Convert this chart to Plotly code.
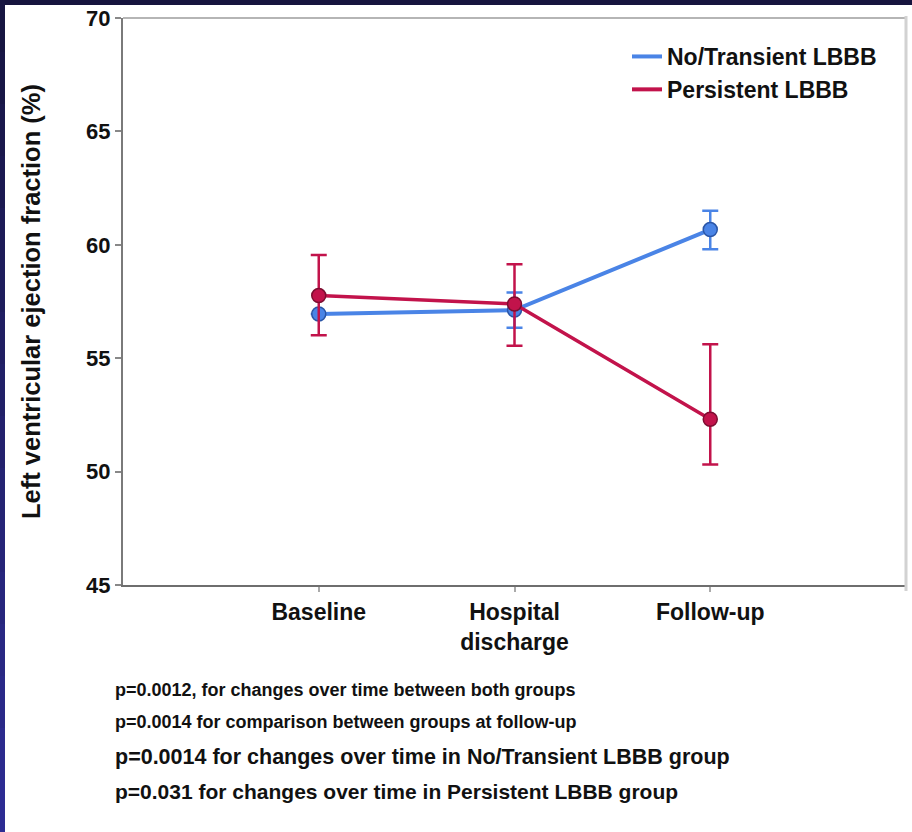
import plotly.graph_objects as go

# ---- data ----
timepoints = ["Baseline", "Hospital<br>discharge", "Follow-up"]
no_transient_mean = [56.95, 57.12, 60.67]
no_transient_err_plus = [None, 0.78, 0.83]
no_transient_err_minus = [None, 0.78, 0.87]
persistent_mean = [57.76, 57.39, 52.31]
persistent_err_plus = [1.79, 1.75, 3.30]
persistent_err_minus = [1.75, 1.84, 2.00]
y_ticks = [45, 50, 55, 60, 65, 70]
series_names = ["No/Transient LBBB", "Persistent LBBB"]
p_notes = [
    "p=0.0012, for changes over time between both groups",
    "p=0.0014 for comparison between groups at follow-up",
    "p=0.0014 for changes over time in No/Transient LBBB group",
    "p=0.031 for changes over time in Persistent LBBB group",
]

# ---- layout geometry (pixels) ----
W, H = 912, 832
L, R, T, B = 123, 906, 18, 585
pw, ph = R - L, B - T


def fx(px):
    return (px - L) / pw


def fy(py):
    return (B - py) / ph


BLUE = "#4a84e6"
BLUE_DK = "#2a55a6"
RED = "#c2134b"
RED_DK = "#7c0d30"
FONT = "Liberation Sans"

fig = go.Figure()

fig.add_trace(go.Scatter(
    x=timepoints, y=no_transient_mean, mode="lines+markers",
    line=dict(color=BLUE, width=4),
    marker=dict(size=14, color=BLUE, line=dict(color=BLUE_DK, width=1.5)),
    error_y=dict(type="data", symmetric=False, array=no_transient_err_plus,
                 arrayminus=no_transient_err_minus, color=BLUE, thickness=2.5, width=8),
    showlegend=False, name=series_names[0]))

fig.add_trace(go.Scatter(
    x=timepoints, y=persistent_mean, mode="lines+markers",
    line=dict(color=RED, width=3.5),
    marker=dict(size=14, color=RED, line=dict(color=RED_DK, width=1.5)),
    error_y=dict(type="data", symmetric=False, array=persistent_err_plus,
                 arrayminus=persistent_err_minus, color=RED, thickness=2.5, width=8),
    showlegend=False, name=series_names[1]))

# legend entries (lines only)
for nm, col in zip(series_names, [BLUE, RED]):
    fig.add_trace(go.Scatter(x=[None], y=[None], mode="lines", name=nm,
                             line=dict(color=col, width=4), showlegend=True))

shapes = []
# dark slide frame: top strip
shapes.append(dict(type="rect", xref="paper", yref="paper",
                   x0=fx(0), x1=fx(W), y0=fy(5), y1=fy(0),
                   fillcolor="#16143e", line=dict(width=0), layer="above"))
# left strip gradient (overlapping bands so no seams)
n = 16
c0 = (0x16, 0x14, 0x3e)
c1 = (0x2e, 0x2d, 0x96)
for i in range(n):
    t0 = i / n
    t1 = (i + 1) / n
    c = tuple(int(round(a + (b - a) * (t0 + t1) / 2)) for a, b in zip(c0, c1))
    shapes.append(dict(type="rect", xref="paper", yref="paper",
                       x0=fx(-1), x1=fx(5), y0=fy(min(H, H * t1 + 3)), y1=fy(H * t0),
                       fillcolor="rgb(%d,%d,%d)" % c, line=dict(width=0), layer="above"))
# top border of plot
shapes.append(dict(type="line", xref="paper", yref="paper",
                   x0=0, x1=1, y0=1, y1=1, line=dict(color="#9c9c9c", width=1.5)))
# right border
shapes.append(dict(type="line", xref="paper", yref="paper",
                   x0=1, x1=1, y0=fy(591), y1=fy(16), line=dict(color="#d2d2d2", width=3)))

annotations = []
ys = [690, 722, 757, 791]
sizes = [18, 18, 21.5, 21]
for txt, yy, sz in zip(p_notes, ys, sizes):
    annotations.append(dict(text=txt, xref="paper", yref="paper", x=fx(113), y=fy(yy),
                            xanchor="left", yanchor="middle", showarrow=False,
                            font=dict(family=FONT, size=sz, color="#111111", weight="bold")))

fig.update_layout(
    width=W, height=H,
    margin=dict(l=L, r=W - R, t=T, b=H - B, pad=0),
    paper_bgcolor="white", plot_bgcolor="white",
    font=dict(family=FONT, color="#111111"),
    shapes=shapes, annotations=annotations,
    legend=dict(x=fx(627), y=fy(35), xanchor="left", yanchor="top",
                bgcolor="rgba(0,0,0,0)", font=dict(family=FONT, size=23, color="#111111", weight="bold"),
                tracegroupgap=0),
    xaxis=dict(type="category", range=[-1, 3], showgrid=False, zeroline=False,
               showline=True, linecolor="#6e6e6e", linewidth=2,
               ticks="outside", ticklen=5, tickcolor="#aaaaaa", tickwidth=1.5,
               tickfont=dict(family=FONT, size=23, color="#111111", weight="bold")),
    yaxis=dict(range=[45, 70], tickvals=y_ticks, showgrid=False, zeroline=False,
               showline=True, linecolor="#7a7a7a", linewidth=2,
               ticks="outside", ticklen=6, tickcolor="#888888", tickwidth=1.5,
               tickfont=dict(family=FONT, size=22, color="#111111", weight="bold"),
               title=dict(text="Left ventricular ejection fraction (%)", standoff=38,
                          font=dict(family=FONT, size=25.5, color="#111111", weight="bold"))),
)

fig.write_html("out.html")
